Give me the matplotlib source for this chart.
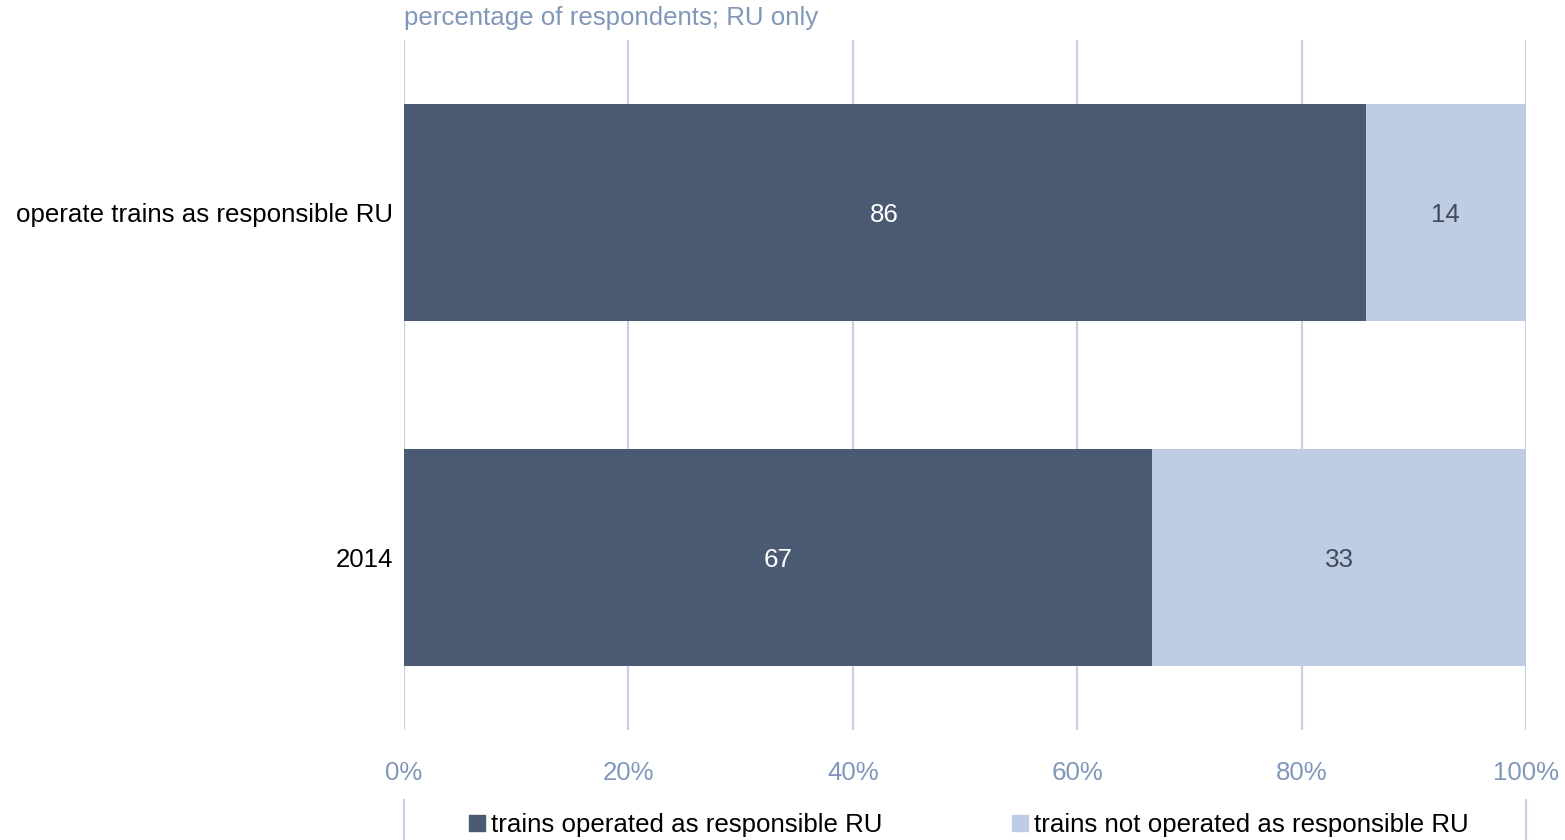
import matplotlib
matplotlib.use("Agg")
import matplotlib.pyplot as plt
from matplotlib.patches import Patch
from matplotlib.lines import Line2D

plt.rcParams['font.family'] = ['Liberation Sans', 'DejaVu Sans']

categories = ["operate trains as responsible RU", "2014"]
series_names = ["trains operated as responsible RU", "trains not operated as responsible RU"]
operated = [85.7, 66.7]
not_operated = [14.3, 33.3]
tick_values = [0, 20, 40, 60, 80, 100]
tick_labels = ["0%", "20%", "40%", "60%", "80%", "100%"]
subtitle = "percentage of respondents; RU only"

dark = "#4A5A73"
light = "#BFCDE4"
grid_c = "#C5D1E5"
tick_c = "#8197B9"
fs = 18.6

fig = plt.figure(figsize=(15.65, 8.4), dpi=100)
ax = fig.add_axes([404/1565, 1-730/840, (1526-404)/1565, 690/840])

y = list(range(len(categories)))
ax.barh(y, operated, height=0.63, color=dark, zorder=3)
ax.barh(y, not_operated, left=operated, height=0.63, color=light, zorder=3)

for i in y:
    ax.text(operated[i]/2, i, f"{operated[i]:.0f}", ha='center', va='center_baseline',
            color='white', fontsize=fs, zorder=4)
    ax.text(operated[i] + not_operated[i]/2, i, f"{not_operated[i]:.0f}", ha='center',
            va='center_baseline', color='#404A5A', fontsize=fs, zorder=4)

ax.set_xlim(0, 100)
ax.set_ylim(1.5, -0.5)
ax.set_yticks(y)
ax.set_yticklabels(categories, fontsize=fs, color='black')
ax.set_xticks(tick_values)
ax.set_xticklabels(tick_labels, fontsize=fs, color=tick_c)
ax.tick_params(axis='both', length=0)
ax.tick_params(axis='y', pad=8)
ax.tick_params(axis='x', pad=22)
for s in ax.spines.values():
    s.set_visible(False)
ax.grid(axis='x', color=grid_c, linewidth=1.6, zorder=0)
ax.set_axisbelow(True)

fig.text(404/1565, 1-18/840, subtitle, ha='left', va='center', fontsize=fs, color=tick_c)

# partial gridlines below legend
for xp in [404, 1526]:
    fig.add_artist(Line2D([xp/1565, xp/1565], [0, 1-800/840], color=grid_c, linewidth=1.6))

handles = [Patch(color=dark), Patch(color=light)]
fig.legend(handles, series_names, loc='center', bbox_to_anchor=(969/1565, 1-825/840),
           ncol=2, frameon=False, fontsize=fs, handlelength=0.62, handleheight=0.62,
           handletextpad=0.23, columnspacing=5.0, borderpad=0, borderaxespad=0)

fig.savefig("out.png", dpi=100)
